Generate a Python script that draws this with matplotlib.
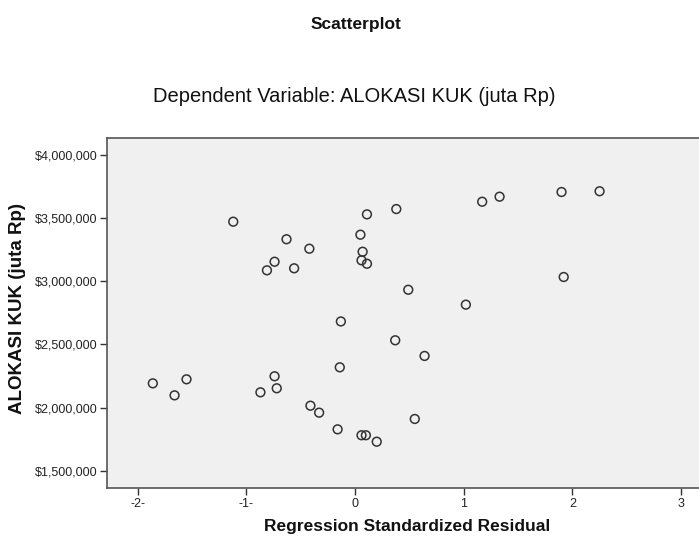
import matplotlib
matplotlib.use('Agg')
import matplotlib.pyplot as plt
from matplotlib.ticker import FuncFormatter

plt.rcParams['font.family'] = ['Liberation Sans', 'DejaVu Sans']

# Data
residual = [-1.86, -1.66, -1.55, -1.12, -0.87, -0.81, -0.74, -0.74, -0.72, -0.63,
            -0.56, -0.42, -0.41, -0.33, -0.16, -0.14, -0.13, 0.05, 0.07, 0.06,
            0.06, 0.11, 0.11, 0.10, 0.20, 0.38, 0.37, 0.49, 0.55, 0.64,
            1.02, 1.17, 1.33, 1.90, 1.92, 2.25]
alokasi = [2192000, 2097000, 2224000, 3472000, 2121000, 3087000, 3155000, 2248000, 2153000, 3333000,
           3103000, 3258000, 2015000, 1960000, 1828000, 2319000, 2682000, 3369000, 3234000, 3166000,
           1781000, 3530000, 3139000, 1781000, 1730000, 3572000, 2533000, 2933000, 1910000, 2409000,
           2815000, 3630000, 3670000, 3707000, 3034000, 3713000]

x_ticks = [-2, -1, 0, 1, 2, 3]
x_tick_labels = ['-2-', '-1-', '0', '1', '2', '3']
y_ticks = [1500000, 2000000, 2500000, 3000000, 3500000, 4000000]

W, H = 699, 544
fig = plt.figure(figsize=(W / 100, H / 100), dpi=100)
fig.patch.set_facecolor('white')

# axes box in pixels: left 107, top 138, bottom 488, right runs off the picture
left_px, top_px, bot_px, right_px = 107, 138, 488, 712
ax = fig.add_axes([left_px / W, (H - bot_px) / H, (right_px - left_px) / W, (bot_px - top_px) / H])
ax.set_facecolor('#f0f0f0')

ax.scatter(residual, alokasi, s=40, facecolors='none', edgecolors='#333333', linewidths=1.1, zorder=3)

# 0 at px 355, 108.7 px per unit; 4M at py 155, 126.3 px per million
ax.set_xlim((left_px - 355) / 108.7, (right_px - 355) / 108.7)
ax.set_ylim(4e6 - (bot_px - 155) / 126.3 * 1e6, 4e6 + (155 - top_px) / 126.3 * 1e6)

ax.set_xticks(x_ticks)
ax.set_xticklabels(x_tick_labels)
ax.set_yticks(y_ticks)
ax.yaxis.set_major_formatter(FuncFormatter(lambda v, p: '${:,.0f}'.format(v)))
ax.tick_params(axis='both', direction='out', length=5, width=1, color='#333333',
               labelsize=9, labelcolor='#222222', pad=2)

for side in ['left', 'bottom', 'top']:
    ax.spines[side].set_color('#555555')
    ax.spines[side].set_linewidth(1.2)
ax.spines['right'].set_visible(False)

fig.text(356 / W, 1 - 25 / H, 'Scatterplot', ha='center', va='center',
         fontsize=12.5, fontweight='bold', color='#111111')
fig.text(354 / W, 1 - 97 / H, 'Dependent Variable: ALOKASI KUK (juta Rp)', ha='center', va='center',
         fontsize=14.5, color='#111111')
fig.text(407 / W, 1 - 527 / H, 'Regression Standardized Residual', ha='center', va='center',
         fontsize=12.5, fontweight='bold', color='#111111')
fig.text(18 / W, 1 - 308 / H, 'ALOKASI KUK (juta Rp)', ha='center', va='center', rotation=90,
         fontsize=13.5, fontweight='bold', color='#111111')

fig.savefig('out.png', dpi=100)
